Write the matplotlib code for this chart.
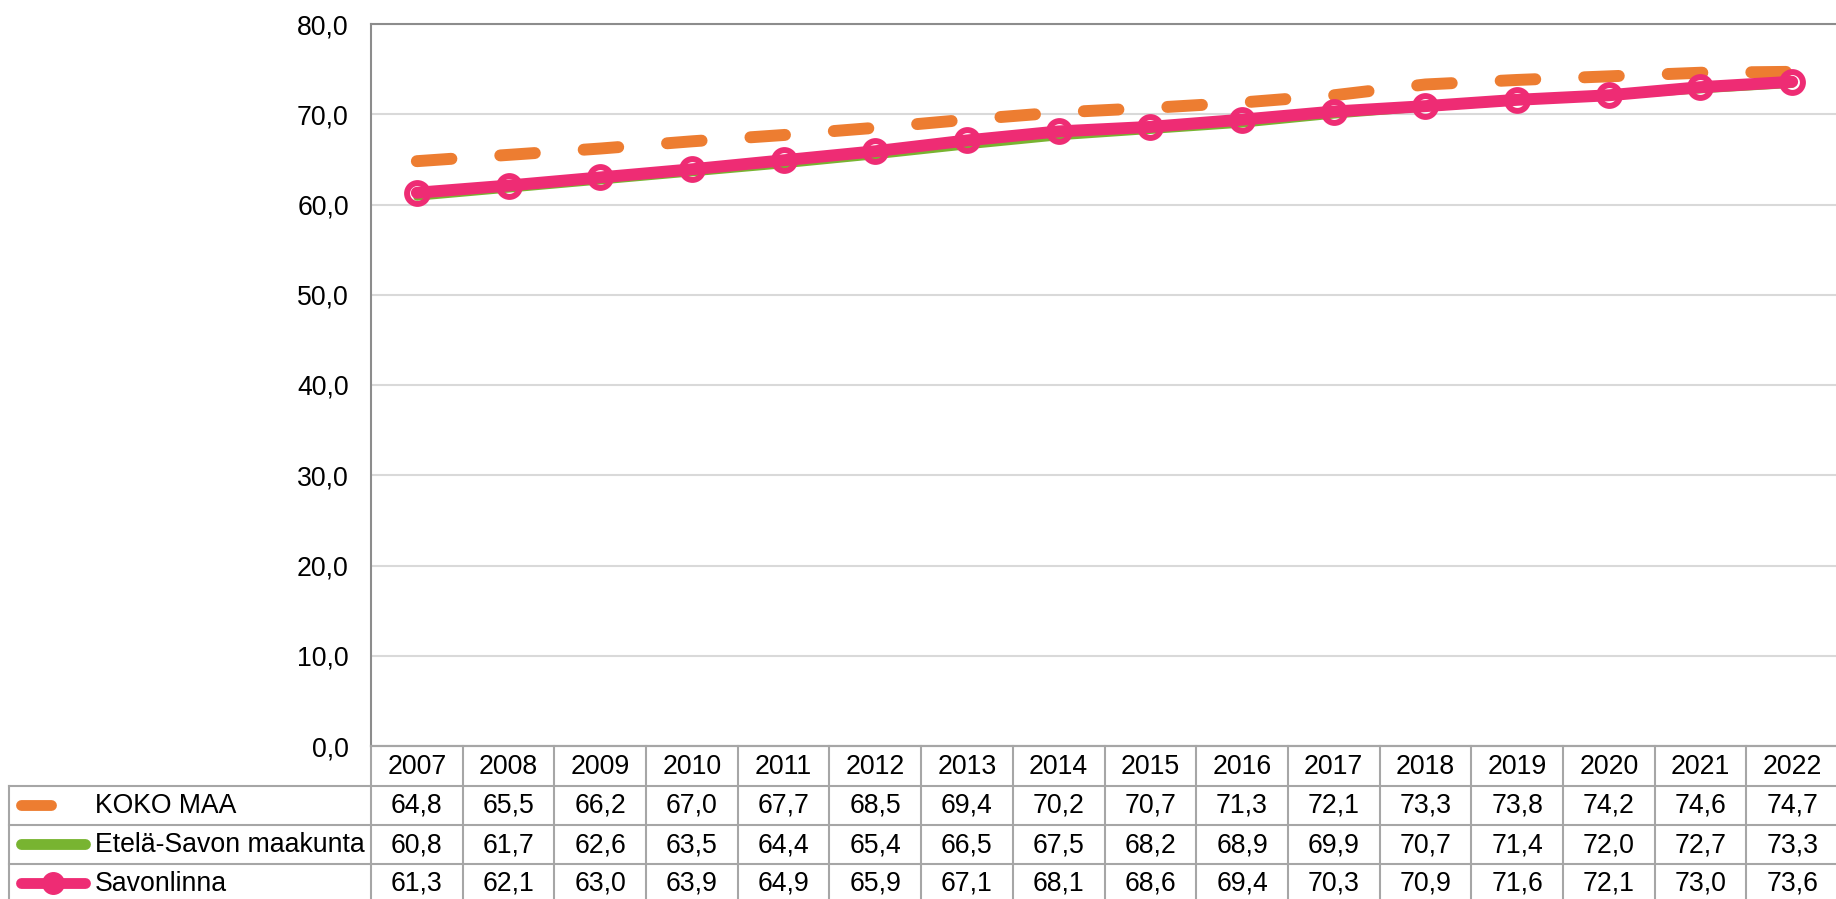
import matplotlib
matplotlib.use('Agg')
import matplotlib.pyplot as plt

years = [2007, 2008, 2009, 2010, 2011, 2012, 2013, 2014, 2015, 2016, 2017, 2018, 2019, 2020, 2021, 2022]
koko_maa = [64.8, 65.5, 66.2, 67.0, 67.7, 68.5, 69.4, 70.2, 70.7, 71.3, 72.1, 73.3, 73.8, 74.2, 74.6, 74.7]
etela_savo = [60.8, 61.7, 62.6, 63.5, 64.4, 65.4, 66.5, 67.5, 68.2, 68.9, 69.9, 70.7, 71.4, 72.0, 72.7, 73.3]
savonlinna = [61.3, 62.1, 63.0, 63.9, 64.9, 65.9, 67.1, 68.1, 68.6, 69.4, 70.3, 70.9, 71.6, 72.1, 73.0, 73.6]
series_names = ['KOKO MAA', 'Etelä-Savon maakunta', 'Savonlinna']
y_ticks = [0, 10, 20, 30, 40, 50, 60, 70, 80]

ORANGE = '#ED7D31'
GREEN = '#78B431'
PINK = '#EE2C74'
GRID = '#D9D9D9'
SPINE = '#8C8C8C'
TABLE = '#A6A6A6'
FS = 19.2

plt.rcParams['font.family'] = ['Liberation Sans', 'DejaVu Sans']

def fmt(v):
    return f"{v:.1f}".replace('.', ',')

W, H = 1836, 899
fig = plt.figure(figsize=(W / 100, H / 100), dpi=100)
pl, pr, pt, pb = 371, 1838, 24, 746
ax = fig.add_axes([pl / W, 1 - pb / H, (pr - pl) / W, (pb - pt) / H])
n = len(years)
x = list(range(n))
ax.set_xlim(-0.5, n - 0.5)
ax.set_ylim(0, 80)
ax.set_yticks(y_ticks)
ax.set_yticklabels([fmt(v) for v in y_ticks], fontsize=FS)
ax.tick_params(axis='y', length=0, pad=16)
ax.set_xticks([])
ax.grid(axis='y', color=GRID, lw=1.5)
ax.set_axisbelow(True)
for s in ['left', 'top']:
    ax.spines[s].set_color(SPINE)
    ax.spines[s].set_linewidth(1.5)
ax.spines['right'].set_visible(False)
ax.spines['bottom'].set_color(TABLE)
ax.spines['bottom'].set_linewidth(1.5)

lw = 8.6
ax.plot(x, koko_maa, color=ORANGE, lw=lw, ls=(0, (2.9, 4.1)), dash_capstyle='round',
        solid_capstyle='round', zorder=3)
ax.plot(x, etela_savo, color=GREEN, lw=5, solid_capstyle='round', zorder=4)
ax.plot(x, savonlinna, color=PINK, lw=lw, solid_capstyle='round', solid_joinstyle='round',
        marker='o', ms=15, mew=4.3, mfc='none', mec=PINK, zorder=5)

# table overlay in pixel coordinates
ov = fig.add_axes([0, 0, 1, 1])
ov.set_xlim(0, W)
ov.set_ylim(H, 0)
ov.axis('off')
colw = (pr - pl) / n
rows = [746, 785.5, 824.5, 863.5, 902.5]
tl = 9
tlw = 1.5
ov.plot([pl, pr], [rows[0], rows[0]], color=TABLE, lw=tlw)
for y in rows[1:]:
    ov.plot([tl, pr], [y, y], color=TABLE, lw=tlw)
ov.plot([tl, tl], [rows[1], rows[-1]], color=TABLE, lw=tlw)
for i in range(n + 1):
    xx = pl + i * colw
    ov.plot([xx, xx], [rows[0], rows[-1]], color=TABLE, lw=tlw)

for i, yr in enumerate(years):
    cx = pl + (i + 0.5) * colw
    ov.text(cx, (rows[0] + rows[1]) / 2 + 1, str(yr), ha='center', va='center', fontsize=FS)
    for r, vals in enumerate([koko_maa, etela_savo, savonlinna]):
        ov.text(cx, (rows[r + 1] + rows[r + 2]) / 2 + 1, fmt(vals[i]), ha='center', va='center', fontsize=FS)

for r, name in enumerate(series_names):
    cy = (rows[r + 1] + rows[r + 2]) / 2
    if r == 0:
        ov.plot([21, 51], [cy, cy], color=ORANGE, lw=7.8, solid_capstyle='round')
    elif r == 1:
        ov.plot([21, 85], [cy, cy], color=GREEN, lw=7.8, solid_capstyle='round')
    else:
        ov.plot([21, 85], [cy, cy], color=PINK, lw=7.8, solid_capstyle='round')
        ov.plot([53], [cy], marker='o', ms=15.5, color=PINK, mec=PINK)
    ov.text(95, cy + 1, name, ha='left', va='center', fontsize=FS)

fig.savefig('out.png', dpi=100)
